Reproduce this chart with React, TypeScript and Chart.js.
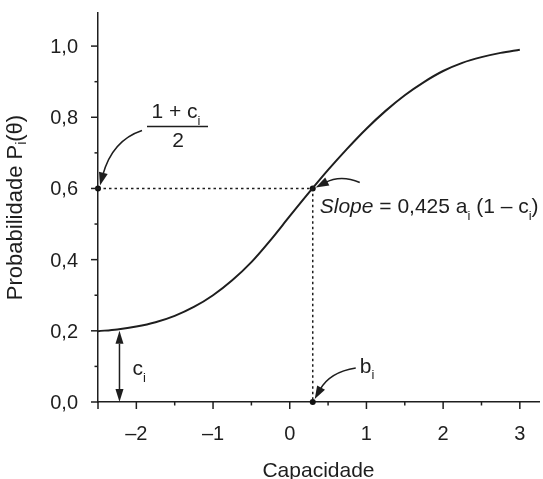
import React, { useEffect, useRef } from 'react';
import { Chart, registerables } from 'chart.js';

Chart.register(...registerables);

// ---- data ----
const THETA = [-2.5, -2.25, -2, -1.75, -1.5, -1.25, -1, -0.75, -0.5, -0.25, 0, 0.25, 0.5, 0.75, 1, 1.25, 1.5, 1.75, 2, 2.25, 2.5, 2.75, 3];
const PROB = [0.199, 0.204, 0.212, 0.224, 0.242, 0.267, 0.3, 0.342, 0.393, 0.455, 0.522, 0.588, 0.652, 0.712, 0.768, 0.818, 0.862, 0.899, 0.93, 0.953, 0.969, 0.981, 0.99];
const X_RANGE = [-2.5, 3.25];
const Y_RANGE = [0, 1.093];
const X_MAJOR = [-2, -1, 0, 1, 2, 3];
const X_MINOR = [-1.5, -0.5, 0.5, 1.5, 2.5];
const Y_MAJOR = [0, 0.2, 0.4, 0.6, 0.8, 1.0];
const Y_MINOR = [0.1, 0.3, 0.5, 0.7, 0.9];
const B_I = [0.3];
const C_I = [0.2];
const P_HALF = [0.6];
const C_ARROW_X = [-2.22];

const FONT = "'Liberation Sans', Arial, Helvetica, sans-serif";
const INK = '#1e1e1e';

type Run = { t: string; sub?: boolean; italic?: boolean };

function runFont(r: Run, size: number) {
  return `${r.italic ? 'italic ' : ''}${r.sub ? Math.round(size * 0.62) : size}px ${FONT}`;
}

function drawRuns(ctx: CanvasRenderingContext2D, runs: Run[], x: number, y: number, size: number, align: 'left' | 'center') {
  let total = 0;
  runs.forEach((r) => {
    ctx.font = runFont(r, size);
    total += ctx.measureText(r.t).width;
  });
  let cx = align === 'center' ? x - total / 2 : x;
  ctx.textAlign = 'left';
  runs.forEach((r) => {
    ctx.font = runFont(r, size);
    ctx.fillText(r.t, cx, y + (r.sub ? size * 0.3 : 0));
    cx += ctx.measureText(r.t).width;
  });
}

type Pt = { x: number; y: number };

function arrowHead(ctx: CanvasRenderingContext2D, tip: Pt, from: Pt, len: number, w: number) {
  const dx = tip.x - from.x;
  const dy = tip.y - from.y;
  const L = Math.hypot(dx, dy) || 1;
  const ux = dx / L;
  const uy = dy / L;
  const bx = tip.x - ux * len;
  const by = tip.y - uy * len;
  ctx.beginPath();
  ctx.moveTo(tip.x, tip.y);
  ctx.lineTo(bx - uy * w / 2, by + ux * w / 2);
  ctx.lineTo(bx + uy * w / 2, by - ux * w / 2);
  ctx.closePath();
  ctx.fill();
  return { x: bx, y: by };
}

function curvedArrow(ctx: CanvasRenderingContext2D, tail: Pt, ctrl: Pt, tip: Pt) {
  const base = arrowHead(ctx, tip, ctrl, 13, 9);
  ctx.beginPath();
  ctx.moveTo(tail.x, tail.y);
  ctx.quadraticCurveTo(ctrl.x, ctrl.y, base.x + (tip.x - base.x) * 0.2, base.y + (tip.y - base.y) * 0.2);
  ctx.stroke();
}

const fmtX = (v: number) => (v < 0 ? '\u2013' + Math.abs(v) : String(v));
const fmtY = (v: number) => v.toFixed(1).replace('.', ',');

const annotations = {
  id: 'annotations',
  afterDatasetsDraw(chart: any) {
    const ctx: CanvasRenderingContext2D = chart.ctx;
    const xs = chart.scales.x;
    const ys = chart.scales.y;
    const area = chart.chartArea;
    const x0 = ys.getPixelForValue(0);
    const yl = xs.getPixelForValue(X_RANGE[0]);
    ctx.save();
    ctx.strokeStyle = INK;
    ctx.fillStyle = INK;
    ctx.lineWidth = 1.5;
    const seg = (a: number, b: number, c: number, d: number) => {
      ctx.beginPath();
      ctx.moveTo(a, b);
      ctx.lineTo(c, d);
      ctx.stroke();
    };
    // ticks
    [X_RANGE[0], ...X_MAJOR].forEach((v) => {
      const p = xs.getPixelForValue(v);
      seg(p, x0, p, x0 + 7);
    });
    X_MINOR.forEach((v) => {
      const p = xs.getPixelForValue(v);
      seg(p, x0, p, x0 + 3.5);
    });
    Y_MAJOR.forEach((v) => {
      const p = ys.getPixelForValue(v);
      seg(yl - 7, p, yl, p);
    });
    Y_MINOR.forEach((v) => {
      const p = ys.getPixelForValue(v);
      seg(yl - 3.5, p, yl, p);
    });
    // tick labels
    ctx.textBaseline = 'alphabetic';
    ctx.font = `20px ${FONT}`;
    ctx.textAlign = 'center';
    X_MAJOR.forEach((v) => ctx.fillText(fmtX(v), xs.getPixelForValue(v), x0 + 38));
    ctx.textAlign = 'right';
    Y_MAJOR.forEach((v) => ctx.fillText(fmtY(v), yl - 20, ys.getPixelForValue(v) + 7));
    // axis titles
    ctx.font = `21px ${FONT}`;
    ctx.textAlign = 'center';
    ctx.fillText('Capacidade', (area.left + area.right) / 2, x0 + 75);
    ctx.save();
    ctx.translate(16, (area.top + area.bottom) / 2);
    ctx.rotate(-Math.PI / 2);
    ctx.textBaseline = 'middle';
    drawRuns(ctx, [{ t: 'Probabilidade P' }, { t: 'i', sub: true }, { t: '(\u03b8)' }], 0, 0, 22, 'center');
    ctx.restore();
    ctx.textBaseline = 'alphabetic';

    // fraction (1 + c_i)/2 and arrow to the dot at theta min
    const A = { x: xs.getPixelForValue(X_RANGE[0]), y: ys.getPixelForValue(P_HALF[0]) };
    drawRuns(ctx, [{ t: '1 + c' }, { t: 'i', sub: true }], A.x + 78, A.y - 70, 21, 'center');
    seg(A.x + 49, A.y - 62, A.x + 110, A.y - 62);
    ctx.font = `21px ${FONT}`;
    ctx.textAlign = 'center';
    ctx.fillText('2', A.x + 80, A.y - 41.5);
    curvedArrow(ctx, { x: A.x + 44, y: A.y - 58 }, { x: A.x + 14, y: A.y - 48 }, { x: A.x + 2, y: A.y - 3 });

    // slope text + arrow to inflection point
    const B = { x: xs.getPixelForValue(B_I[0]), y: ys.getPixelForValue(P_HALF[0]) };
    drawRuns(ctx, [{ t: 'Slope', italic: true }, { t: ' = 0,425 a' }, { t: 'i', sub: true }, { t: ' (1 \u2013 c' }, { t: 'i', sub: true }, { t: ')' }], B.x + 7, B.y + 25, 21, 'left');
    curvedArrow(ctx, { x: B.x + 47, y: B.y - 6 }, { x: B.x + 28, y: B.y - 14 }, { x: B.x + 3, y: B.y - 1 });

    // b_i
    const C = { x: xs.getPixelForValue(B_I[0]), y: ys.getPixelForValue(0) };
    drawRuns(ctx, [{ t: 'b' }, { t: 'i', sub: true }], C.x + 47, C.y - 29, 21, 'left');
    curvedArrow(ctx, { x: C.x + 43, y: C.y - 34 }, { x: C.x + 17, y: C.y - 30 }, { x: C.x + 2, y: C.y - 3 });

    // c_i double arrow
    const cx = xs.getPixelForValue(C_ARROW_X[0]);
    const ct = ys.getPixelForValue(C_I[0]);
    const cb = ys.getPixelForValue(0);
    const topBase = arrowHead(ctx, { x: cx, y: ct }, { x: cx, y: cb }, 13, 8);
    const botBase = arrowHead(ctx, { x: cx, y: cb }, { x: cx, y: ct }, 13, 8);
    seg(cx, topBase.y, cx, botBase.y);
    drawRuns(ctx, [{ t: 'c' }, { t: 'i', sub: true }], cx + 13, (ct + cb) / 2 + 9, 21, 'left');
    ctx.restore();
  },
};

export default function App() {
  const ref = useRef<HTMLCanvasElement | null>(null);
  useEffect(() => {
    if (!ref.current) return;
    const guide = [
      { x: X_RANGE[0], y: P_HALF[0] },
      { x: B_I[0], y: P_HALF[0] },
      { x: B_I[0], y: 0 },
    ];
    const chart = new Chart(ref.current, {
      type: 'line',
      data: {
        datasets: [
          {
            data: THETA.map((t, i) => ({ x: t, y: PROB[i] })),
            borderColor: INK,
            borderWidth: 2,
            pointRadius: 0,
            cubicInterpolationMode: 'monotone',
            clip: false,
          } as any,
          {
            data: guide,
            borderColor: INK,
            borderWidth: 1.5,
            borderDash: [2.5, 3],
            pointRadius: 0,
            tension: 0,
            clip: false,
          } as any,
          {
            data: guide,
            showLine: false,
            pointRadius: 3,
            pointBackgroundColor: '#111',
            pointBorderWidth: 0,
            clip: false,
          } as any,
        ],
      },
      options: {
        responsive: false,
        animation: false,
        devicePixelRatio: 1,
        layout: { padding: { top: 13, left: 0, right: 0, bottom: 0 } },
        plugins: { legend: { display: false }, tooltip: { enabled: false }, title: { display: false } },
        scales: {
          x: {
            type: 'linear',
            min: X_RANGE[0],
            max: X_RANGE[1],
            grid: { display: false },
            ticks: { display: false },
            border: { display: true, color: INK, width: 1.5 },
            afterFit: (s: any) => {
              s.height = 77;
            },
          },
          y: {
            type: 'linear',
            min: Y_RANGE[0],
            max: Y_RANGE[1],
            grid: { display: false },
            ticks: { display: false },
            border: { display: true, color: INK, width: 1.5 },
            afterFit: (s: any) => {
              s.width = 98;
            },
          },
        },
      } as any,
      plugins: [annotations],
    });
    return () => chart.destroy();
  }, []);
  return (
    <div style={{ position: 'fixed', left: 0, top: 0, width: 543, height: 479, background: '#fff' }}>
      <canvas ref={ref} width={543} height={479} />
    </div>
  );
}
